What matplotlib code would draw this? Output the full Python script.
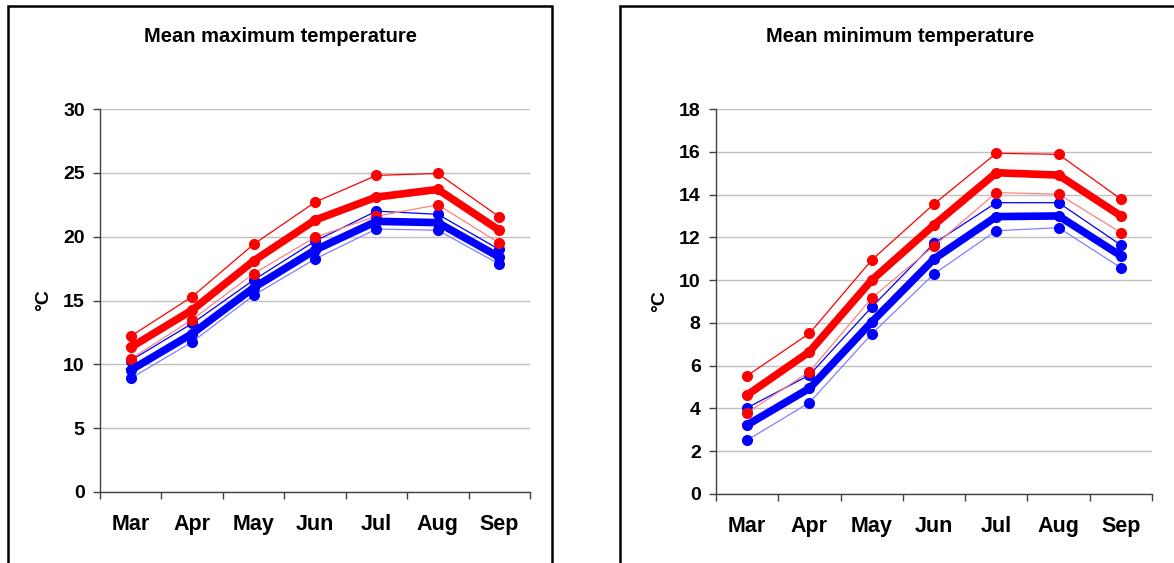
import matplotlib
matplotlib.use("Agg")
import matplotlib.pyplot as plt
from matplotlib.patches import Rectangle
import numpy as np

plt.rcParams['font.family'] = ['Liberation Sans', 'DejaVu Sans']

months = ["Mar", "Apr", "May", "Jun", "Jul", "Aug", "Sep"]

# Mean maximum temperature
max_red_upper = [12.2, 15.3, 19.4, 22.7, 24.8, 24.95, 21.55]
max_red_mean = [11.33, 14.25, 18.1, 21.3, 23.1, 23.7, 20.5]
max_red_lower = [10.42, 13.5, 17.1, 19.95, 21.6, 22.5, 19.5]
max_blue_upper = [10.3, 13.2, 16.6, 19.65, 22.0, 21.75, 19.0]
max_blue_mean = [9.55, 12.4, 16.0, 18.95, 21.2, 21.1, 18.4]
max_blue_lower = [8.9, 11.75, 15.4, 18.25, 20.6, 20.5, 17.85]

# Mean minimum temperature
min_red_upper = [5.53, 7.51, 10.94, 13.56, 15.93, 15.88, 13.79]
min_red_mean = [4.63, 6.65, 10.0, 12.58, 15.02, 14.91, 13.0]
min_red_lower = [3.8, 5.72, 9.16, 11.6, 14.09, 14.02, 12.22]
min_blue_upper = [4.03, 5.56, 8.74, 11.72, 13.62, 13.62, 11.64]
min_blue_mean = [3.23, 4.94, 8.04, 10.99, 12.97, 13.0, 11.14]
min_blue_lower = [2.52, 4.27, 7.48, 10.29, 12.31, 12.45, 10.58]

fig = plt.figure(figsize=(11.74, 5.63), dpi=100)

# panel frames
for x0, w in [(8, 544), (620, 560)]:
    fig.patches.append(Rectangle((x0 / 1174, -0.05), w / 1174, (563 - 6) / 563 + 0.05,
                                 transform=fig.transFigure, fill=False,
                                 edgecolor='black', linewidth=1.8, zorder=0))

ax1 = fig.add_axes([100 / 1174, (563 - 492) / 563, 430 / 1174, 383 / 563])
ax2 = fig.add_axes([716 / 1174, (563 - 494) / 563, 436 / 1174, 385 / 563])

RED = '#ff0000'
LRED = '#ff8080'
BLUE = '#0000ff'
LBLUE = '#8080ff'


def draw(ax, series, ymax, ystep, title, title_x):
    x = np.arange(len(months))
    ru, rm, rl, bu, bm, bl = series
    ms = 7
    ax.plot(x, bl, color=LBLUE, lw=0.9, marker='o', ms=ms, mfc=BLUE, mec=BLUE, zorder=3)
    ax.plot(x, bu, color=BLUE, lw=0.9, marker='o', ms=ms, mfc=BLUE, mec=BLUE, zorder=3)
    ax.plot(x, rl, color=LRED, lw=0.9, marker='o', ms=ms, mfc=RED, mec=RED, zorder=3)
    ax.plot(x, ru, color=RED, lw=0.9, marker='o', ms=ms, mfc=RED, mec=RED, zorder=3)
    ax.plot(x, bm, color=BLUE, lw=5.5, marker='o', ms=ms, mfc=BLUE, mec=BLUE, zorder=4,
            solid_joinstyle='round')
    ax.plot(x, rm, color=RED, lw=5.5, marker='o', ms=ms, mfc=RED, mec=RED, zorder=4,
            solid_joinstyle='round')

    ax.set_xlim(-0.5, len(months) - 0.5)
    ax.set_ylim(0, ymax)
    ax.set_yticks(np.arange(0, ymax + 0.001, ystep))
    ax.set_xticks(x)
    ax.set_xticklabels(months, fontsize=15.5, fontweight='bold')
    ax.set_xticks(np.arange(-0.5, len(months), 1.0), minor=True)
    ax.tick_params(axis='x', which='major', length=0, pad=16)
    ax.tick_params(axis='x', which='minor', length=5, direction='out', color='#404040', width=1)
    ax.tick_params(axis='y', which='major', length=5, direction='out', color='#404040', width=1,
                   labelsize=14, pad=6)
    for lab in ax.get_yticklabels():
        lab.set_fontweight('bold')
    ax.grid(axis='y', color='#c0c0c0', linewidth=1)
    ax.set_axisbelow(True)
    for s in ['top', 'right']:
        ax.spines[s].set_visible(False)
    for s in ['left', 'bottom']:
        ax.spines[s].set_color('#404040')
        ax.spines[s].set_linewidth(1)
    ax.set_ylabel('°C', fontsize=14, fontweight='bold', labelpad=8)
    fig.text(title_x / 1174, 1 - 37 / 563, title, ha='center', va='center',
             fontsize=14.5, fontweight='bold')


draw(ax1, [max_red_upper, max_red_mean, max_red_lower, max_blue_upper, max_blue_mean, max_blue_lower],
     30, 5, 'Mean maximum temperature', 280)
draw(ax2, [min_red_upper, min_red_mean, min_red_lower, min_blue_upper, min_blue_mean, min_blue_lower],
     18, 2, 'Mean minimum temperature', 900)

fig.savefig('out.png', dpi=100)
